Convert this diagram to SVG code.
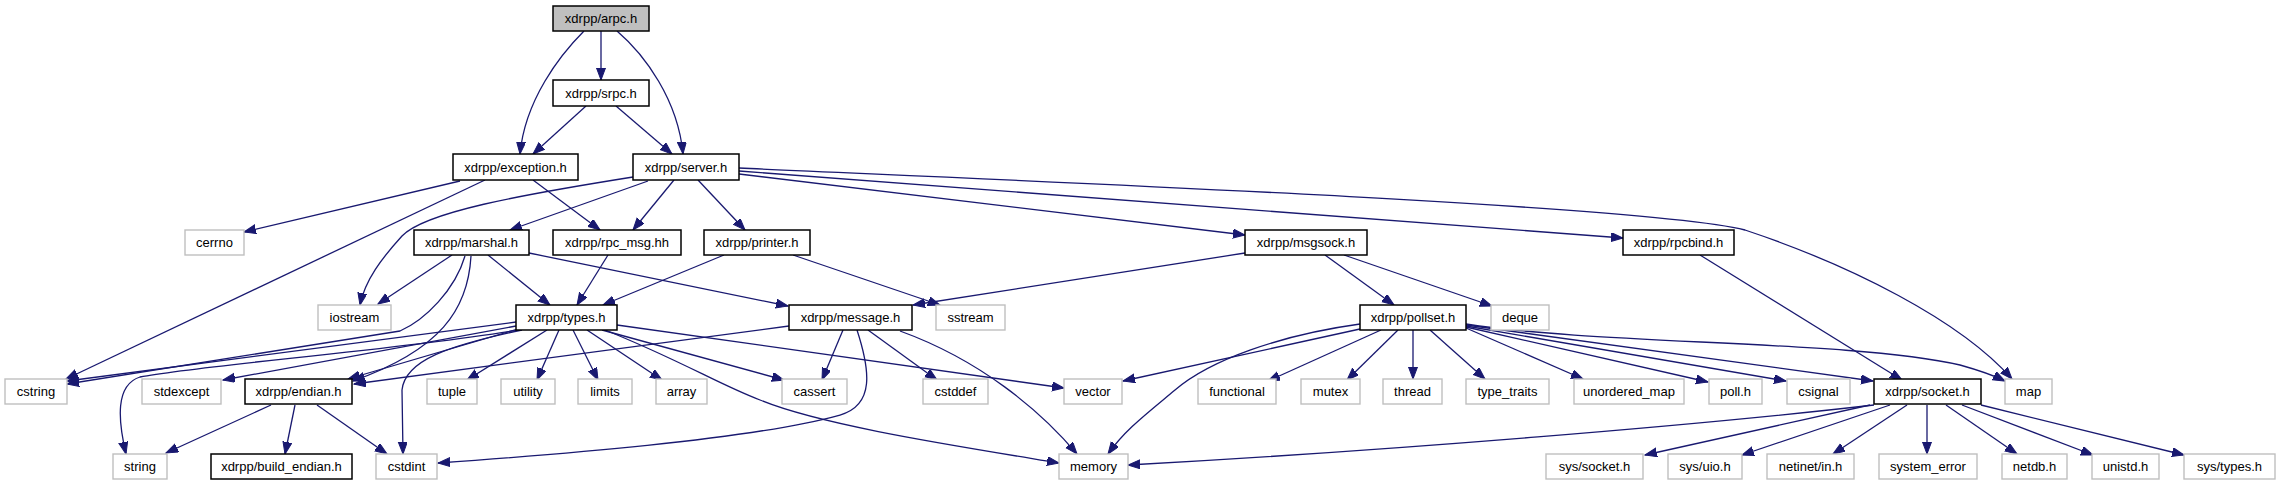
<svg xmlns="http://www.w3.org/2000/svg" width="2280" height="485" viewBox="0 0 2280 485">
<style>
.n rect{fill:#fff;stroke:#000;stroke-width:1.5}
.x rect{fill:#fff;stroke:#bfbfbf;stroke-width:1.4}
.r rect{fill:#bfbfbf;stroke:#000;stroke-width:1.5}
text{font-family:"Liberation Sans",Arial,sans-serif;font-size:13px;fill:#000;text-anchor:middle}
#edges path{fill:none;stroke:#191970;stroke-width:1.3;marker-end:url(#ah)}
</style>
<defs>
<marker id="ah" markerUnits="userSpaceOnUse" markerWidth="13" markerHeight="10" refX="12" refY="4.5" orient="auto">
<path d="M0,0 L12,4.5 L0,9 z" fill="#191970" stroke="#191970" stroke-width="1"/>
</marker>
</defs>
<rect width="2280" height="485" fill="#fff"/>
<g id="edges">
<path d="M601,31 L601,80"/>
<path d="M584,31 C560,55 525,100 520,154"/>
<path d="M617,31 C645,55 678,100 683,154"/>
<path d="M586,106 L533,154"/>
<path d="M616,106 L672,154"/>
<path d="M460,181 L244,232"/>
<path d="M485,180 L66,379"/>
<path d="M533,180 L600,230"/>
<path d="M633,177 C520,195 425,212 402,236 C382,258 365,280 360,305"/>
<path d="M648,181 L510,230"/>
<path d="M674,180 L633,230"/>
<path d="M698,180 L745,230"/>
<path d="M739,174 L1245,235"/>
<path d="M739,171 L1623,238"/>
<path d="M739,168 C1000,180 1650,205 1745,230 C1850,265 1960,320 2012,379"/>
<path d="M452,255 L378,304"/>
<path d="M488,255 L550,305"/>
<path d="M529,253 L788,306"/>
<path d="M465,256 C455,290 425,320 400,331 L67,384"/>
<path d="M471,256 C468,310 440,350 353,381"/>
<path d="M608,255 L577,305"/>
<path d="M724,255 L603,305"/>
<path d="M793,255 L940,305"/>
<path d="M1245,253 L913,305"/>
<path d="M1325,255 L1394,305"/>
<path d="M1344,255 L1492,306"/>
<path d="M516,322 L67,381"/>
<path d="M516,326 L223,380"/>
<path d="M518,329 L348,379"/>
<path d="M789,326 L354,384"/>
<path d="M518,330 C400,350 200,365 140,377 C115,385 118,420 126,454"/>
<path d="M522,330 C450,345 405,360 402,390 L403,454"/>
<path d="M547,330 L467,380"/>
<path d="M559,330 L537,380"/>
<path d="M573,330 L598,380"/>
<path d="M587,330 L662,380"/>
<path d="M602,330 L784,380"/>
<path d="M605,330 C680,360 720,385 760,400 C820,425 950,445 1059,463"/>
<path d="M617,325 L1064,388"/>
<path d="M843,330 L822,380"/>
<path d="M868,330 L937,380"/>
<path d="M857,330 C870,370 875,405 840,415 C750,440 550,455 438,463"/>
<path d="M900,331 C980,360 1040,410 1077,454"/>
<path d="M271,405 L166,453"/>
<path d="M295,405 L285,454"/>
<path d="M317,405 L387,454"/>
<path d="M1360,329 L1123,381"/>
<path d="M1360,324 C1280,335 1210,360 1175,390 C1145,415 1125,430 1108,454"/>
<path d="M1381,330 L1268,381"/>
<path d="M1398,330 L1347,380"/>
<path d="M1413,330 L1413,379"/>
<path d="M1430,330 L1485,379"/>
<path d="M1466,328 L1583,379"/>
<path d="M1466,327 L1708,382"/>
<path d="M1466,326 L1786,381"/>
<path d="M1466,325 L1873,381"/>
<path d="M1466,324 C1600,345 1850,340 1960,365 C1985,372 1995,376 2005,381"/>
<path d="M1700,255 L1902,380"/>
<path d="M1874,405 C1700,425 1400,450 1128,465"/>
<path d="M1870,405 L1645,455"/>
<path d="M1890,405 L1742,455"/>
<path d="M1907,405 L1833,454"/>
<path d="M1927,405 L1927,454"/>
<path d="M1946,405 L2017,454"/>
<path d="M1962,405 L2093,455"/>
<path d="M1981,405 L2184,455"/>
</g>
<g id="n_arpc" class="r"><rect x="553" y="6" width="96" height="25"/><text x="601" y="23">xdrpp/arpc.h</text></g>
<g id="n_srpc" class="n"><rect x="553" y="80" width="96" height="26"/><text x="601" y="97.5">xdrpp/srpc.h</text></g>
<g id="n_exception" class="n"><rect x="453" y="154" width="125" height="26"/><text x="515.5" y="171.5">xdrpp/exception.h</text></g>
<g id="n_server" class="n"><rect x="633" y="154" width="106" height="26"/><text x="686" y="171.5">xdrpp/server.h</text></g>
<g id="n_cerrno" class="x"><rect x="185" y="230" width="59" height="25"/><text x="214.5" y="247">cerrno</text></g>
<g id="n_marshal" class="n"><rect x="414" y="230" width="115" height="25"/><text x="471.5" y="247">xdrpp/marshal.h</text></g>
<g id="n_rpcmsg" class="n"><rect x="553" y="230" width="128" height="25"/><text x="617" y="247">xdrpp/rpc_msg.hh</text></g>
<g id="n_printer" class="n"><rect x="704" y="230" width="106" height="25"/><text x="757" y="247">xdrpp/printer.h</text></g>
<g id="n_msgsock" class="n"><rect x="1245" y="230" width="122" height="25"/><text x="1306" y="247">xdrpp/msgsock.h</text></g>
<g id="n_rpcbind" class="n"><rect x="1623" y="230" width="111" height="25"/><text x="1678.5" y="247">xdrpp/rpcbind.h</text></g>
<g id="n_iostream" class="x"><rect x="318" y="305" width="73" height="25"/><text x="354.5" y="322">iostream</text></g>
<g id="n_types" class="n"><rect x="516" y="305" width="101" height="25"/><text x="566.5" y="322">xdrpp/types.h</text></g>
<g id="n_message" class="n"><rect x="789" y="305" width="123" height="25"/><text x="850.5" y="322">xdrpp/message.h</text></g>
<g id="n_sstream" class="x"><rect x="936" y="305" width="69" height="25"/><text x="970.5" y="322">sstream</text></g>
<g id="n_pollset" class="n"><rect x="1360" y="305" width="106" height="25"/><text x="1413" y="322">xdrpp/pollset.h</text></g>
<g id="n_deque" class="x"><rect x="1491" y="305" width="58" height="25"/><text x="1520" y="322">deque</text></g>
<g id="n_cstring" class="x"><rect x="5" y="379" width="62" height="25"/><text x="36" y="396">cstring</text></g>
<g id="n_stdexcept" class="x"><rect x="142" y="379" width="79" height="25"/><text x="181.5" y="396">stdexcept</text></g>
<g id="n_endian" class="n"><rect x="245" y="379" width="107" height="25"/><text x="298.5" y="396">xdrpp/endian.h</text></g>
<g id="n_tuple" class="x"><rect x="427" y="379" width="50" height="25"/><text x="452" y="396">tuple</text></g>
<g id="n_utility" class="x"><rect x="501" y="379" width="54" height="25"/><text x="528" y="396">utility</text></g>
<g id="n_limits" class="x"><rect x="578" y="379" width="54" height="25"/><text x="605" y="396">limits</text></g>
<g id="n_array" class="x"><rect x="656" y="379" width="51" height="25"/><text x="681.5" y="396">array</text></g>
<g id="n_cassert" class="x"><rect x="782" y="379" width="65" height="25"/><text x="814.5" y="396">cassert</text></g>
<g id="n_cstddef" class="x"><rect x="923" y="379" width="65" height="25"/><text x="955.5" y="396">cstddef</text></g>
<g id="n_vector" class="x"><rect x="1064" y="379" width="58" height="25"/><text x="1093" y="396">vector</text></g>
<g id="n_functional" class="x"><rect x="1198" y="379" width="78" height="25"/><text x="1237" y="396">functional</text></g>
<g id="n_mutex" class="x"><rect x="1301" y="379" width="59" height="25"/><text x="1330.5" y="396">mutex</text></g>
<g id="n_thread" class="x"><rect x="1383" y="379" width="59" height="25"/><text x="1412.5" y="396">thread</text></g>
<g id="n_type_traits" class="x"><rect x="1466" y="379" width="83" height="25"/><text x="1507.5" y="396">type_traits</text></g>
<g id="n_unordered_map" class="x"><rect x="1574" y="379" width="110" height="25"/><text x="1629" y="396">unordered_map</text></g>
<g id="n_poll" class="x"><rect x="1709" y="379" width="53" height="25"/><text x="1735.5" y="396">poll.h</text></g>
<g id="n_csignal" class="x"><rect x="1787" y="379" width="63" height="25"/><text x="1818.5" y="396">csignal</text></g>
<g id="n_socket" class="n"><rect x="1874" y="379" width="107" height="25"/><text x="1927.5" y="396">xdrpp/socket.h</text></g>
<g id="n_map" class="x"><rect x="2005" y="379" width="47" height="25"/><text x="2028.5" y="396">map</text></g>
<g id="n_string" class="x"><rect x="113" y="454" width="54" height="25"/><text x="140" y="471">string</text></g>
<g id="n_build_endian" class="n"><rect x="211" y="454" width="141" height="25"/><text x="281.5" y="471">xdrpp/build_endian.h</text></g>
<g id="n_cstdint" class="x"><rect x="376" y="454" width="61" height="25"/><text x="406.5" y="471">cstdint</text></g>
<g id="n_memory" class="x"><rect x="1059" y="454" width="69" height="25"/><text x="1093.5" y="471">memory</text></g>
<g id="n_sys_socket" class="x"><rect x="1546" y="454" width="97" height="25"/><text x="1594.5" y="471">sys/socket.h</text></g>
<g id="n_sys_uio" class="x"><rect x="1668" y="454" width="74" height="25"/><text x="1705" y="471">sys/uio.h</text></g>
<g id="n_netinet_in" class="x"><rect x="1767" y="454" width="87" height="25"/><text x="1810.5" y="471">netinet/in.h</text></g>
<g id="n_system_error" class="x"><rect x="1879" y="454" width="98" height="25"/><text x="1928" y="471">system_error</text></g>
<g id="n_netdb" class="x"><rect x="2002" y="454" width="65" height="25"/><text x="2034.5" y="471">netdb.h</text></g>
<g id="n_unistd" class="x"><rect x="2092" y="454" width="67" height="25"/><text x="2125.5" y="471">unistd.h</text></g>
<g id="n_sys_types" class="x"><rect x="2184" y="454" width="91" height="25"/><text x="2229.5" y="471">sys/types.h</text></g>
</svg>
